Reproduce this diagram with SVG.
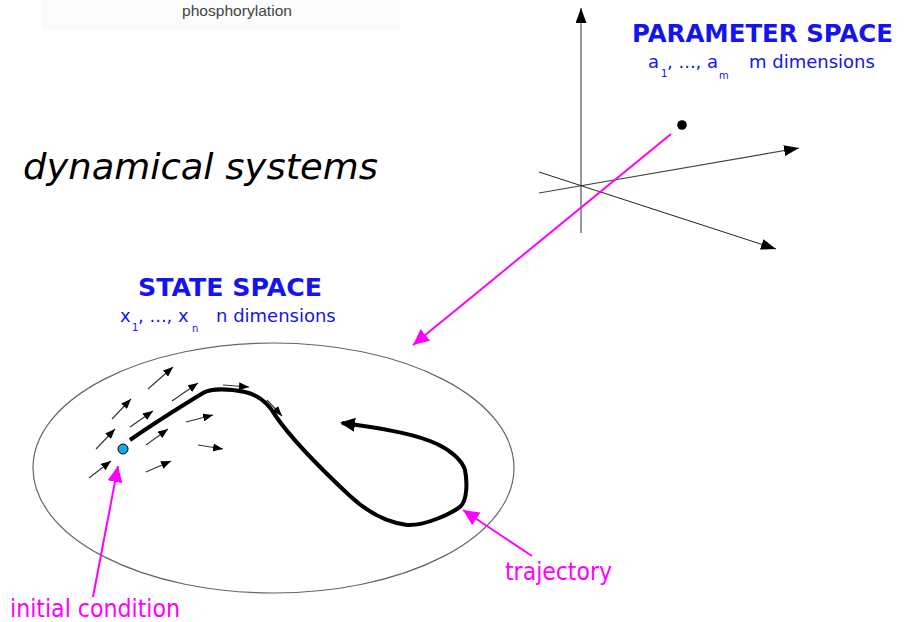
<svg xmlns="http://www.w3.org/2000/svg" width="913" height="622" viewBox="0 0 913 622">
<defs>
<style>
.ttl{font-family:"DejaVu Sans",Verdana,sans-serif;font-weight:bold;font-size:24px;fill:#1414f0}
.sub{font-family:"DejaVu Sans",Verdana,sans-serif;font-size:18px;fill:#1414f0}
.idx{font-size:10px}
.mag{font-family:"DejaVu Sans Condensed","DejaVu Sans",sans-serif;font-size:25px;fill:#ff00ff}
.fld{stroke:#333;stroke-width:1.1;fill:none;marker-end:url(#ahs)}
.axis{stroke:#555;stroke-width:1.2;fill:none;marker-end:url(#aha)}
.magl{stroke:#ff00ff;stroke-width:2;fill:none;marker-end:url(#ahm)}
</style>
<marker id="ahs" viewBox="0 0 10 8" refX="10" refY="4" markerWidth="10" markerHeight="8" markerUnits="userSpaceOnUse" orient="auto"><path d="M0,0 L10,4 L0,8 z" fill="#000"/></marker>
<marker id="aha" viewBox="0 0 15 11" refX="15" refY="5.5" markerWidth="15" markerHeight="11" markerUnits="userSpaceOnUse" orient="auto"><path d="M0,0 L15,5.5 L0,11 z" fill="#000"/></marker>
<marker id="ahm" viewBox="0 0 16 15" refX="16" refY="7.5" markerWidth="16" markerHeight="15" markerUnits="userSpaceOnUse" orient="auto"><path d="M0,0 L16,7.5 L0,15 z" fill="#ff00ff"/></marker>
<marker id="aht" viewBox="0 0 15 14" refX="13" refY="7" markerWidth="15" markerHeight="14" markerUnits="userSpaceOnUse" orient="auto"><path d="M0,0 L15,7 L0,14 z" fill="#000"/></marker>
</defs>
<rect width="913" height="622" fill="#fff"/>

<g id="header">
<rect x="42" y="0" width="358" height="30" fill="#fbfbfb"/>
<text x="182" y="16" font-family="Liberation Sans,Arial,sans-serif" font-size="15" fill="#444" textLength="110" lengthAdjust="spacingAndGlyphs">phosphorylation</text>
</g>

<g id="title">
<text x="23" y="179" font-family="DejaVu Sans,Verdana,sans-serif" font-style="italic" font-size="36" fill="#000" textLength="355" lengthAdjust="spacingAndGlyphs">dynamical systems</text>
</g>

<g id="parameter-space">
<line class="axis" x1="581" y1="233" x2="581" y2="8"/>
<line class="axis" x1="539" y1="193" x2="799" y2="148" style="stroke:#444"/>
<line class="axis" x1="539" y1="172" x2="776" y2="249" style="stroke:#222;stroke-width:1"/>
<circle cx="682" cy="125" r="4.8" fill="#000"/>
<text class="ttl" x="632" y="42" textLength="261" lengthAdjust="spacingAndGlyphs">PARAMETER SPACE</text>
<text class="sub" x="648" y="68">a</text>
<text class="sub idx" x="661" y="77">1</text>
<text class="sub" x="667" y="68">, ..., a</text>
<text class="sub idx" x="719" y="79">m</text>
<text class="sub" x="749" y="68">m dimensions</text>
</g>

<g id="state-space">
<ellipse cx="273.5" cy="468" rx="240.5" ry="125" fill="none" stroke="#666" stroke-width="1.2"/>
<text class="ttl" x="138" y="296" textLength="184" lengthAdjust="spacingAndGlyphs">STATE SPACE</text>
<text class="sub" x="120" y="322">x</text>
<text class="sub idx" x="132" y="331">1</text>
<text class="sub" x="138" y="322">, ..., x</text>
<text class="sub idx" x="192" y="332">n</text>
<text class="sub" x="216" y="322">n dimensions</text>
</g>

<g id="vector-field">
<line class="fld" x1="148" y1="389" x2="173" y2="367"/>
<line class="fld" x1="112" y1="419" x2="131" y2="399"/>
<line class="fld" x1="96" y1="449" x2="115" y2="429"/>
<line class="fld" x1="89" y1="478" x2="111" y2="461"/>
<line class="fld" x1="130" y1="427" x2="153" y2="411"/>
<line class="fld" x1="172" y1="401" x2="198" y2="383"/>
<line class="fld" x1="146" y1="445" x2="168" y2="429"/>
<line class="fld" x1="146" y1="472" x2="171" y2="461"/>
<line class="fld" x1="186" y1="422" x2="213" y2="415"/>
<line class="fld" x1="198" y1="445" x2="223" y2="449"/>
<line class="fld" x1="223" y1="385" x2="249" y2="387"/>
<line class="fld" x1="267" y1="400" x2="282" y2="416"/>
</g>

<g id="trajectory">
<path d="M130,440 C150,426 185,404 203,393 C212,388 230,389 245,392 C258,395 268,403 275,415 C290,437 320,468 350,496 C365,510 385,522 407,525 C425,526 450,514 460,507 C468,500 467,480 465,470 C462,460 450,450 437,444 C420,436 395,430 342,423" fill="none" stroke="#000" stroke-width="4" stroke-linejoin="round" marker-end="url(#aht)"/>
</g>

<g id="initial-point">
<circle cx="123" cy="449" r="5" fill="#1aa6ea" stroke="#000" stroke-width="1"/>
</g>

<g id="connectors">
<line class="magl" x1="671" y1="134" x2="413" y2="345"/>
<line class="magl" x1="93" y1="597" x2="118" y2="466"/>
<line class="magl" x1="532" y1="556" x2="463" y2="510"/>
</g>

<g id="labels">
<text class="mag" x="505" y="580" textLength="107" lengthAdjust="spacingAndGlyphs">trajectory</text>
<text class="mag" x="10" y="617" textLength="170" lengthAdjust="spacingAndGlyphs">initial condition</text>
</g>
</svg>
